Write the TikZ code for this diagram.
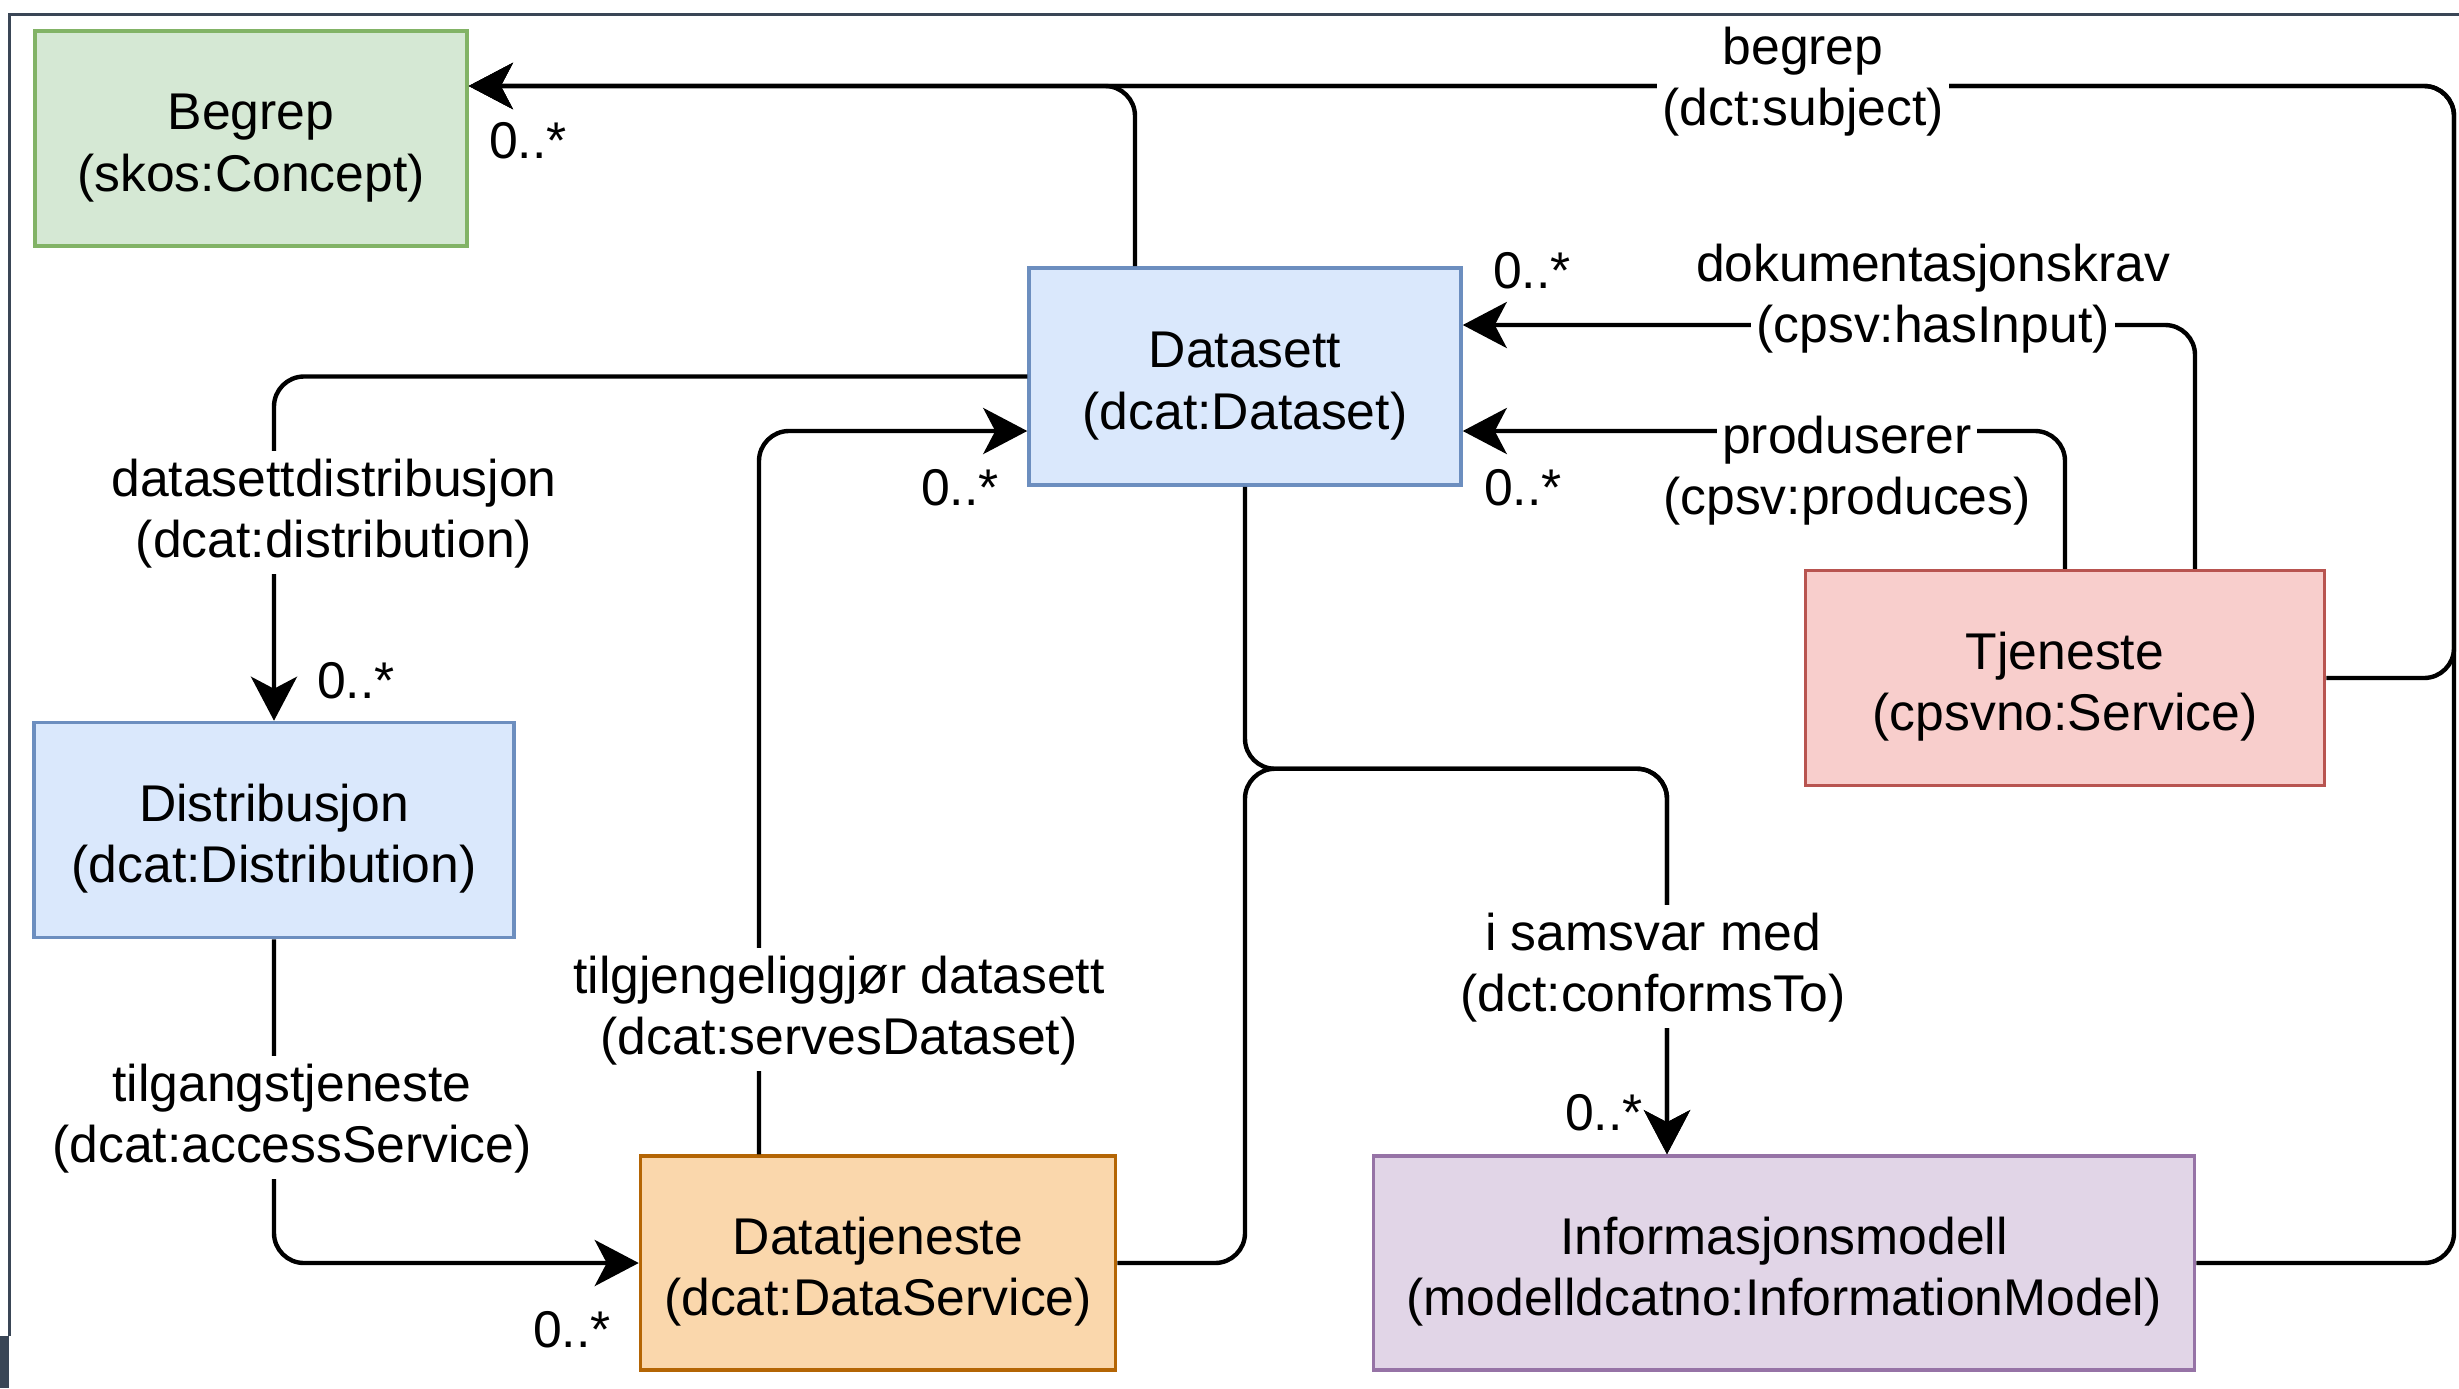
\documentclass[tikz,border=0pt]{standalone}
\usepackage{fontspec}
\setmainfont{Liberation Sans}
\usetikzlibrary{arrows.meta}

\definecolor{gronnfyll}{HTML}{D5E8D4}
\definecolor{gronnkant}{HTML}{82B366}
\definecolor{blafyll}{HTML}{DAE8FC}
\definecolor{blakant}{HTML}{6C8EBF}
\definecolor{rodfyll}{HTML}{F8CECC}
\definecolor{rodkant}{HTML}{B85450}
\definecolor{oransjefyll}{HTML}{FAD7AC}
\definecolor{oransjekant}{HTML}{B46504}
\definecolor{lillafyll}{HTML}{E1D5E7}
\definecolor{lillakant}{HTML}{9673A6}
\definecolor{rammefarge}{HTML}{3A4656}

% white background behind one line of a connector label
\newcommand{\hvit}[1]{{\setlength{\fboxsep}{0pt}\colorbox{white}{\kern1.5pt\rule[-4.5pt]{0pt}{17.5pt}#1\kern1.5pt}}}
% two line class text, set a little lower in its box
\newcommand{\klassetekst}[2]{\rule{0pt}{15.5pt}#1\\#2}

\begin{document}
\begin{tikzpicture}[>={Stealth[length=4.4mm,width=4.6mm,inset=1.2mm]},
  font=\fontsize{14.7}{17.5}\selectfont,
  klasse/.style={rectangle,draw,line width=1pt,align=center,
  minimum height=2.15cm},
  etikett/.style={align=center,inner sep=0pt},
  antall/.style={inner sep=0pt},
  kobling/.style={->,line width=1.25pt,rounded corners=3mm}]

  \fill[white] (0,0) rectangle (24.59,-13.88);
  \useasboundingbox (0,0) rectangle (24.59,-13.88);

  %screenshot frame%
  \draw[rammefarge,line width=0.7pt] (0.095,-13.36) -- (0.095,-0.145) -- (24.59,-0.145);
  \fill[rammefarge] (0,-13.36) rectangle (0.09,-13.88);

  \node[klasse,fill=gronnfyll,draw=gronnkant,minimum width=4.32cm] (begrep) at (2.51,-1.385) {\klassetekst{Begrep}{(skos:Concept)}};
  \node[klasse,fill=blafyll,draw=blakant,minimum width=4.32cm,minimum height=2.17cm] (datasett) at (12.45,-3.765) {\klassetekst{Datasett}{(dcat:Dataset)}};
  \node[klasse,fill=blafyll,draw=blakant,minimum width=4.80cm] (distribusjon) at (2.74,-8.30) {\klassetekst{Distribusjon}{(dcat:Distribution)}};
  \node[klasse,fill=rodfyll,draw=rodkant,minimum width=5.19cm] (tjeneste) at (20.65,-6.78) {\klassetekst{Tjeneste}{(cpsvno:Service)}};
  \node[klasse,fill=oransjefyll,draw=oransjekant,minimum width=4.75cm,minimum height=2.14cm] (datatjeneste) at (8.78,-12.63) {\klassetekst{Datatjeneste}{(dcat:DataService)}};
  \node[klasse,fill=lillafyll,draw=lillakant,minimum width=8.21cm,minimum height=2.14cm] (infomodell) at (17.84,-12.63) {\klassetekst{Informasjonsmodell}{(modelldcatno:InformationModel)}};

  \coordinate (begrepinn) at ([yshift=5.25mm]begrep.east);
  \coordinate (hoyre) at (24.54,-0.86);
  \coordinate (kryss) at ([yshift=-28.2mm]datasett.south);
  \coordinate (infoinn) at ([xshift=-11.7mm]infomodell.north);

  %Datasett to Begrep%
  \draw[kobling] ([xshift=-11mm]datasett.north) |- (begrepinn);
  %Tjeneste and Informasjonsmodell to Begrep%
  \draw[kobling] (tjeneste.east) -| (hoyre) -- (begrepinn);
  \draw[kobling] (infomodell.east) -| (hoyre) -- (begrepinn);
  %Datasett to Distribusjon%
  \draw[kobling] (datasett.west) -| (distribusjon.north);
  %Distribusjon to Datatjeneste%
  \draw[kobling] (distribusjon.south) |- (datatjeneste.west);
  %Datatjeneste to Datasett%
  \draw[kobling] ([xshift=-11.9mm]datatjeneste.north) |- ([yshift=-5.45mm]datasett.west);
  %Datasett and Datatjeneste to Informasjonsmodell%
  \draw[kobling] (datasett.south) -- (kryss) -| (infoinn);
  \draw[kobling] (datatjeneste.east) -| (kryss) -| (infoinn);
  %Tjeneste to Datasett%
  \draw[kobling] (tjeneste.north) |- ([yshift=-5.45mm]datasett.east);
  \draw[kobling] ([xshift=13mm]tjeneste.north) |- ([yshift=5.15mm]datasett.east);

  %labels%
  \node[etikett] (lbegrep) at (18.03,-0.80) {\hvit{begrep}\\\hvit{(dct:subject)}};
  \node[etikett] (ldok) at (19.33,-2.97) {\hvit{dokumentasjonskrav}\\\hvit{(cpsv:hasInput)}};
  \node[etikett] (lprod) at (18.47,-4.69) {\hvit{produserer}\\\hvit{(cpsv:produces)}};
  \node[etikett] (ldist) at (3.34,-5.12) {\hvit{datasettdistribusjon}\\\hvit{(dcat:distribution)}};
  \node[etikett] (ltilgang) at (2.92,-11.17) {\hvit{tilgangstjeneste}\\\hvit{(dcat:accessService)}};
  \node[etikett] (lserves) at (8.39,-10.09) {\hvit{tilgjengeliggjør datasett}\\\hvit{(dcat:servesDataset)}};
  \node[etikett] (lsamsvar) at (16.53,-9.66) {\hvit{i samsvar med}\\\hvit{(dct:conformsTo)}};

  %multiplicities%
  \node[antall] (mbegrep) at (5.28,-1.41) {0..*};
  \node[antall] (mdist) at (3.56,-6.81) {0..*};
  \node[antall] (mtjen) at (5.72,-13.30) {0..*};
  \node[antall] (mserves) at (9.60,-4.88) {0..*};
  \node[antall] (mprod) at (15.23,-4.88) {0..*};
  \node[antall] (mdok) at (15.32,-2.71) {0..*};
  \node[antall] (minfo) at (16.04,-11.13) {0..*};

\end{tikzpicture}
\end{document}
